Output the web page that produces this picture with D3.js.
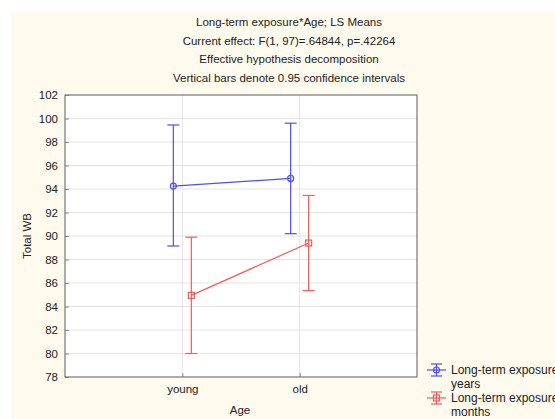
<!DOCTYPE html>
<html>
<head>
<meta charset="utf-8">
<script src="https://cdn.jsdelivr.net/npm/d3@7"></script>
<style>
  body { margin: 0; background: #fff; }
  svg text { font-family: "Liberation Sans", Arial, sans-serif; fill: #222; }
</style>
</head>
<body>
<svg id="chart" width="555" height="419"></svg>
<script>
// data
var titleLines = [
  "Long-term exposure*Age; LS Means",
  "Current effect: F(1, 97)=.64844, p=.42264",
  "Effective hypothesis decomposition",
  "Vertical bars denote 0.95 confidence intervals"
];
var categories = ["young", "old"];
var seriesNames = ["Long-term exposure years", "Long-term exposure months"];
var yearsMean  = [94.25, 94.9];
var yearsLow   = [89.15, 90.2];
var yearsHigh  = [99.45, 99.6];
var monthsMean = [84.95, 89.4];
var monthsLow  = [80.0, 85.35];
var monthsHigh = [89.9, 93.45];
var yTicks = [78, 80, 82, 84, 86, 88, 90, 92, 94, 96, 98, 100, 102];

var svg = d3.select("#chart");
var W = 555, H = 419;
var m = {left: 65, top: 95, right: 417, bottom: 377};

// cream panel
svg.append("rect").attr("x", 11).attr("y", 11).attr("width", W - 11).attr("height", H - 11)
  .attr("fill", "#fffaee");

// title
svg.append("g").selectAll("text").data(titleLines).enter().append("text")
  .attr("x", 289).attr("y", function(d, i) { return 26 + i * 18.5; })
  .attr("text-anchor", "middle").style("font-size", "11.5px")
  .text(function(d) { return d; });

var x = d3.scalePoint().domain(categories).range([m.left, m.right]).padding(1);
var y = d3.scaleLinear().domain([78, 102]).range([m.bottom, m.top]);

svg.append("rect").attr("x", m.left).attr("y", m.top)
  .attr("width", m.right - m.left).attr("height", m.bottom - m.top)
  .attr("fill", "#fff");

// grid
var grid = svg.append("g");
grid.selectAll(".hy").data(yTicks.slice(1, -1)).enter().append("line")
  .attr("x1", m.left).attr("x2", m.right)
  .attr("y1", function(d) { return y(d); }).attr("y2", function(d) { return y(d); })
  .attr("stroke", "#e4e4e4").attr("stroke-width", 1);
grid.selectAll(".vx").data(categories).enter().append("line")
  .attr("x1", function(d) { return x(d); }).attr("x2", function(d) { return x(d); })
  .attr("y1", m.top).attr("y2", m.bottom)
  .attr("stroke", "#e4e4e4").attr("stroke-width", 1);

// axes
var yAxis = d3.axisLeft(y).tickValues(yTicks).tickSizeInner(-4).tickSizeOuter(0).tickPadding(7);
var gy = svg.append("g").attr("transform", "translate(" + m.left + ",0)").call(yAxis);
gy.select(".domain").remove();
gy.selectAll("line").attr("stroke", "#888");
gy.selectAll("text").style("font-size", "11.5px").attr("fill", "#222");

var xAxis = d3.axisBottom(x).tickSizeInner(-4).tickSizeOuter(0).tickPadding(8);
var gx = svg.append("g").attr("transform", "translate(0," + m.bottom + ")").call(xAxis);
gx.select(".domain").remove();
gx.selectAll("line").attr("stroke", "#888");
gx.selectAll("text").style("font-size", "11.5px").attr("fill", "#222");

svg.append("rect").attr("x", m.left).attr("y", m.top)
  .attr("width", m.right - m.left).attr("height", m.bottom - m.top)
  .attr("fill", "none").attr("stroke", "#777").attr("stroke-width", 1.2);

svg.append("text").attr("x", 240).attr("y", 414).attr("text-anchor", "middle")
  .style("font-size", "11.5px").text("Age");
svg.append("text").attr("transform", "translate(31,236) rotate(-90)")
  .attr("text-anchor", "middle").style("font-size", "11.5px").text("Total WB");

// series
var series = [
  {mean: yearsMean, low: yearsLow, high: yearsHigh, color: "#4d4dff", off: -9, shape: "circle"},
  {mean: monthsMean, low: monthsLow, high: monthsHigh, color: "#ff5555", off: 9, shape: "square"}
];

series.forEach(function(s) {
  var g = svg.append("g");
  var px = function(i) { return x(categories[i]) + s.off; };
  var line = d3.line().x(function(d, i) { return px(i); }).y(function(d) { return y(d); });
  g.append("path").datum(s.mean).attr("d", line).attr("fill", "none")
    .attr("stroke", s.color).attr("stroke-width", 1.2);
  categories.forEach(function(c, i) {
    g.append("line").attr("x1", px(i)).attr("x2", px(i))
      .attr("y1", y(s.low[i])).attr("y2", y(s.high[i]))
      .attr("stroke", s.color).attr("stroke-width", 1.2);
    [s.low[i], s.high[i]].forEach(function(v) {
      g.append("line").attr("x1", px(i) - 6).attr("x2", px(i) + 6)
        .attr("y1", y(v)).attr("y2", y(v))
        .attr("stroke", s.color).attr("stroke-width", 1.2);
    });
    if (s.shape === "circle") {
      g.append("circle").attr("cx", px(i)).attr("cy", y(s.mean[i])).attr("r", 3)
        .attr("fill", "none").attr("stroke", s.color).attr("stroke-width", 1.2);
    } else {
      g.append("rect").attr("x", px(i) - 3).attr("y", y(s.mean[i]) - 3)
        .attr("width", 6).attr("height", 6)
        .attr("fill", "none").attr("stroke", s.color).attr("stroke-width", 1.2);
    }
  });
});

// legend
var legendLines = [["Long-term exposure", "years"], ["Long-term exposure", "months"]];
legendLines.forEach(function(lines, k) {
  var s = series[k];
  var ly = 370 + k * 28;
  var g = svg.append("g");
  g.append("line").attr("x1", 427).attr("x2", 446).attr("y1", ly).attr("y2", ly)
    .attr("stroke", s.color).attr("stroke-width", 1.2);
  g.append("line").attr("x1", 436.5).attr("x2", 436.5).attr("y1", ly - 6).attr("y2", ly + 6)
    .attr("stroke", s.color).attr("stroke-width", 1.2);
  [ly - 6, ly + 6].forEach(function(v) {
    g.append("line").attr("x1", 431).attr("x2", 442).attr("y1", v).attr("y2", v)
      .attr("stroke", s.color).attr("stroke-width", 1.2);
  });
  if (s.shape === "circle") {
    g.append("circle").attr("cx", 436.5).attr("cy", ly).attr("r", 3)
      .attr("fill", "none").attr("stroke", s.color).attr("stroke-width", 1.2);
  } else {
    g.append("rect").attr("x", 433.5).attr("y", ly - 3).attr("width", 6).attr("height", 6)
      .attr("fill", "none").attr("stroke", s.color).attr("stroke-width", 1.2);
  }
  lines.forEach(function(t, j) {
    g.append("text").attr("x", 451).attr("y", ly + 4 + j * 14)
      .style("font-size", "12px").text(t);
  });
});
</script>
</body>
</html>
